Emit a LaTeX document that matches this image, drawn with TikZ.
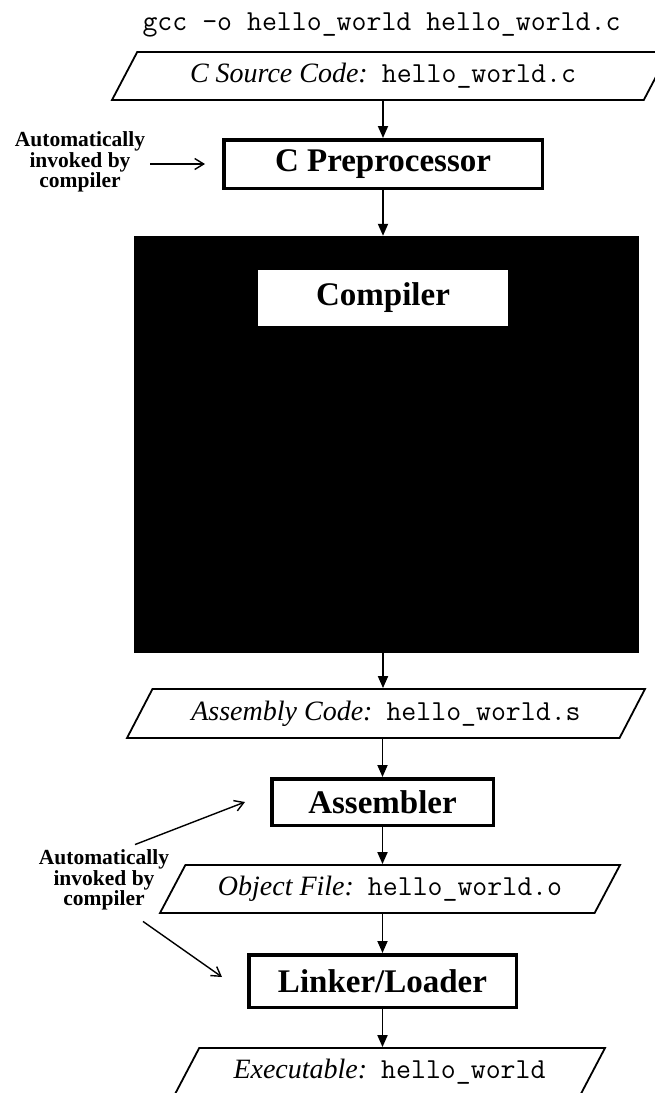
\documentclass[tikz,border=0pt]{standalone}
\usepackage{fontspec}
\setmainfont{Liberation Serif}
\usetikzlibrary{shapes.geometric,arrows.meta}

\tikzset{
  procbox/.style={draw, line width=3.5pt, fill=white, inner sep=0pt,
    font=\fontsize{33}{40}\selectfont\bfseries},
  databox/.style={draw, line width=1.8pt, shape=trapezium,
    trapezium left angle=45, trapezium right angle=135,
    trapezium stretches body, inner sep=0pt,
    font=\fontsize{28}{32}\selectfont\itshape},
  flow/.style={line width=1.8pt, -{Triangle[length=12pt,width=10pt]}},
  note/.style={line width=1.4pt, -{Straight Barb[length=9pt,width=11pt]}},
  notetext/.style={align=center, inner sep=0pt,
    font=\fontsize{21.5}{20.5}\selectfont\bfseries},
}
\newcommand{\fname}[1]{{\fontsize{29}{32}\selectfont\upshape\ttfamily #1}}

\begin{document}
\begin{tikzpicture}[x=1pt,y=-1pt]
\useasboundingbox (0,0) rectangle (655,1093);
\clip (0,0) rectangle (655,1093);

\node[font=\fontsize{29}{32}\selectfont\ttfamily] (cmd) at (381.5,25)
  {gcc -o hello\_world hello\_world.c};

% source and preprocessor
\node[databox, minimum width=557, minimum height=48] (src) at (390.5,76)
  {\hspace*{-15pt}C Source Code:\hspace{14pt}\fname{hello\_world.c}};
\node[procbox, minimum width=318.5, minimum height=48.5] (pre) at (383,164)
  {C Preprocessor};

% the compiler itself
\node[fill=black, inner sep=0pt, minimum width=505, minimum height=417] (ccomp) at (386.5,444.5) {};
\node[fill=white, inner sep=0pt, minimum width=250, minimum height=56,
  font=\fontsize{33}{40}\selectfont\bfseries] (comp) at (383,298) {Compiler};

\node[databox, minimum width=518, minimum height=49] (acode) at (386,713.5)
  {Assembly Code:\hspace{14pt}\fname{hello\_world.s}};
\node[procbox, minimum width=221.5, minimum height=46.5] (asm) at (382.5,802)
  {Assembler};
\node[databox, minimum width=460, minimum height=48] (obj) at (390,889)
  {Object File:\hspace{14pt}\fname{hello\_world.o}};
\node[procbox, minimum width=267.5, minimum height=52.5] (lnk) at (382.5,981)
  {Linker/Loader};
\node[databox, minimum width=431, minimum height=48] (exe) at (389.5,1072)
  {Executable:\hspace{14pt}\fname{hello\_world}};

% main flow
\draw[flow] (src.south -| pre) -- (pre);
\draw[flow] (pre) -- (ccomp.north -| pre);
\draw[flow] (ccomp.south -| pre) -- (acode.north -| pre);
\draw[flow] (acode.south -| asm) -- (asm);
\draw[flow] (asm) -- (obj.north -| asm);
\draw[flow] (obj.south -| lnk) -- (lnk);
\draw[flow] (lnk) -- (exe.north -| lnk);

% notes
\node[notetext] (ann1) at (80,162) {Automatically\\invoked by\\compiler};
\draw[note] ([xshift=5pt,yshift=-2pt]ann1.east) -- ([xshift=-17pt]pre.west);

\node[notetext] (ann2) at (104,880) {Automatically\\invoked by\\compiler};
\draw[note] ([xshift=31pt,yshift=5pt]ann2.north) -- ([xshift=-25pt]asm.west);
\draw[note] ([xshift=39pt,yshift=-11pt]ann2.south) -- ([xshift=-25pt,yshift=4pt]lnk.west);
\end{tikzpicture}
\end{document}
